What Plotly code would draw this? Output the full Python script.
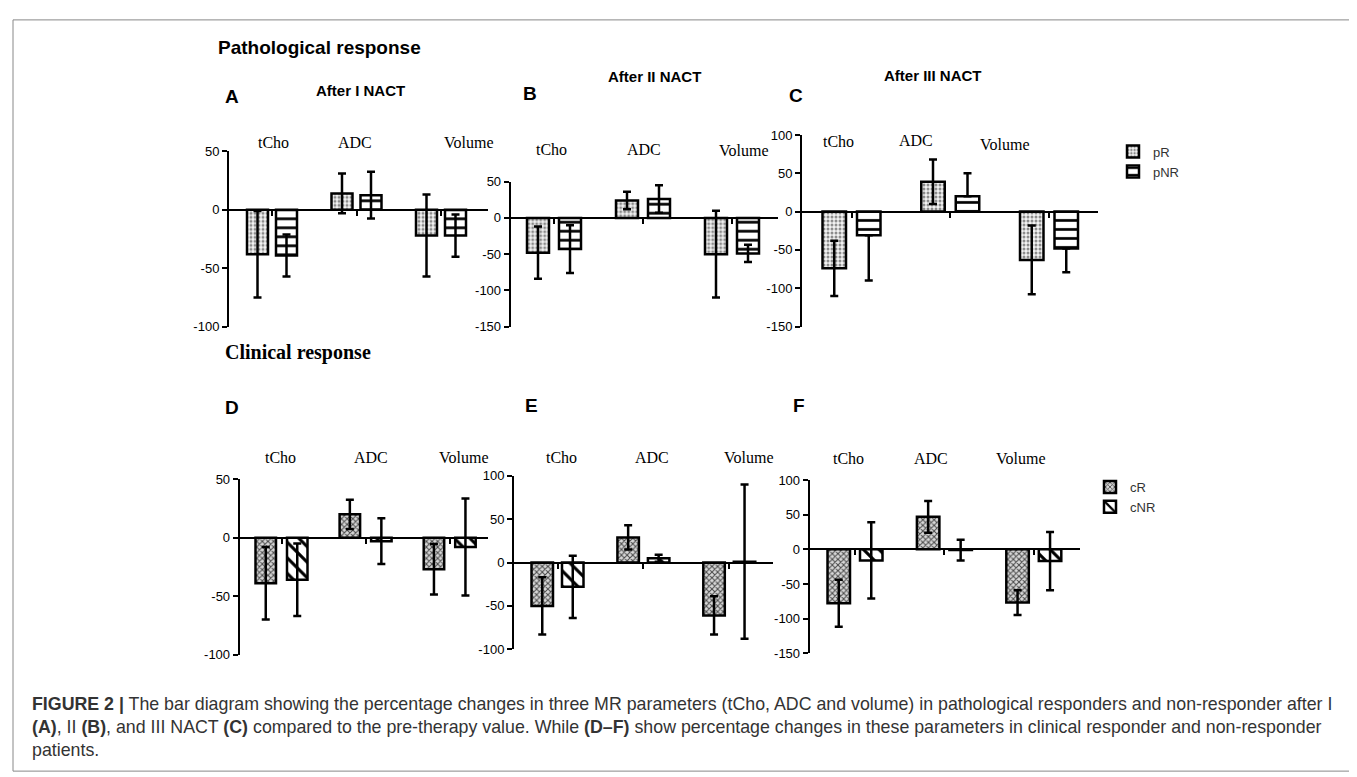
import plotly.graph_objects as go

W, H = 1357, 777

# ---------------- data ----------------
groups = ["tCho", "ADC", "Volume"]

# Pathological response (pR / pNR)
A_pR = [-38, 14, -22]
A_pR_up = [37, 17, 35]
A_pR_dn = [37, 17, 35]
A_pNR = [-39, 12.5, -22]
A_pNR_up = [18, 20, 18]
A_pNR_dn = [18, 20, 18]

B_pR = [-48, 24, -50]
B_pR_up = [36, 12, 60]
B_pR_dn = [36, 12, 60]
B_pNR = [-43, 26, -49]
B_pNR_up = [33, 19, 12]
B_pNR_dn = [33, 19, 12]

C_pR = [-74, 39, -63]
C_pR_up = [36, 29, 45]
C_pR_dn = [36, 29, 45]
C_pNR = [-31, 20, -48]
C_pNR_up = [0, 30, 0]
C_pNR_dn = [59, 0, 31]

# Clinical response (cR / cNR)
D_cR = [-39, 20, -27]
D_cR_up = [31, 12.5, 21.5]
D_cR_dn = [31, 12.5, 21.5]
D_cNR = [-36, -3, -8]
D_cNR_up = [31, 19.5, 41.5]
D_cNR_dn = [31, 19.5, 41.5]

E_cR = [-50, 29, -61]
E_cR_up = [33, 14, 22]
E_cR_dn = [33, 14, 22]
E_cNR = [-28, 5, 1]
E_cNR_up = [36, 4, 89]
E_cNR_dn = [36, 4, 89]

F_cR = [-78, 47, -77]
F_cR_up = [34, 23, 18]
F_cR_dn = [34, 23, 18]
F_cNR = [-16, -1, -17]
F_cNR_up = [55, 15, 42]
F_cNR_dn = [55, 15, 42]

ticks_A = [-100, -50, 0, 50]
ticks_B = [-150, -100, -50, 0, 50]
ticks_C = [-150, -100, -50, 0, 50, 100]
ticks_D = [-100, -50, 0, 50]
ticks_E = [-100, -50, 0, 50, 100]
ticks_F = [-150, -100, -50, 0, 50, 100]

panel_titles = ["After I NACT", "After II NACT", "After III NACT"]

# ---------------- styles ----------------
STYLE = {
    "pR": dict(shape=".", fgcolor="#8a8a8a", bgcolor="#f4f4f4", size=4, solidity=0.45),
    "pNR": dict(shape="-", fgcolor="#000000", bgcolor="#ffffff", size=9, solidity=0.3),
    "cR": dict(shape="x", fgcolor="#4a4a4a", bgcolor="#d8d8d8", size=4, solidity=0.45),
    "cNR": dict(shape="\\", fgcolor="#000000", bgcolor="#ffffff", size=11, solidity=0.28),
}

# panel geometry in pixels: y-axis x, x-axis end, top/bottom of y range, group centres, bar width, inner gap
panels = [
    dict(name="A", s1=("pR", A_pR, A_pR_up, A_pR_dn), s2=("pNR", A_pNR, A_pNR_up, A_pNR_dn),
         ticks=ticks_A, x0=221, x1=480, ytop=139, ybot=318, c0=264, c2=433, bw=21, gap=8),
    dict(name="B", s1=("pR", B_pR, B_pR_up, B_pR_dn), s2=("pNR", B_pNR, B_pNR_up, B_pNR_dn),
         ticks=ticks_B, x0=502.7, x1=770, ytop=170, ybot=317.7, c0=546, c2=724, bw=22, gap=10),
    dict(name="C", s1=("pR", C_pR, C_pR_up, C_pR_dn), s2=("pNR", C_pNR, C_pNR_up, C_pNR_dn),
         ticks=ticks_C, x0=794, x1=1090, ytop=122.3, ybot=317.7, c0=843.5, c2=1041, bw=23.5, gap=11),
    dict(name="D", s1=("cR", D_cR, D_cR_up, D_cR_dn), s2=("cNR", D_cNR, D_cNR_up, D_cNR_dn),
         ticks=ticks_D, x0=231.7, x1=480, ytop=473.3, ybot=652.3, c0=273.5, c2=441.7, bw=20.5, gap=11),
    dict(name="E", s1=("cR", E_cR, E_cR_up, E_cR_dn), s2=("cNR", E_cNR, E_cNR_up, E_cNR_dn),
         ticks=ticks_E, x0=506, x1=765, ytop=470, ybot=646.7, c0=549.5, c2=721.3, bw=21.5, gap=9),
    dict(name="F", s1=("cR", F_cR, F_cR_up, F_cR_dn), s2=("cNR", F_cNR, F_cNR_up, F_cNR_dn),
         ticks=ticks_F, x0=801.7, x1=1071.7, ytop=474.3, ybot=650.7, c0=847, c2=1025.8, bw=22.5, gap=10),
]

fig = go.Figure()
legend_seen = set()
layout = {}

for i, p in enumerate(panels, start=1):
    xa = "x" if i == 1 else f"x{i}"
    ya = "y" if i == 1 else f"y{i}"
    d = (p["c2"] - p["c0"]) / 2.0
    xr = [-(p["c0"] - p["x0"]) / d, 2 + (p["x1"] - p["c2"]) / d]
    yr = [p["ticks"][0], p["ticks"][-1]]
    dom_y = [1 - p["ybot"] / H, 1 - p["ytop"] / H]
    zero_pos = dom_y[0] + (0 - yr[0]) / (yr[1] - yr[0]) * (dom_y[1] - dom_y[0])
    w = p["bw"] / d
    offs = [-(p["gap"] / 2 + p["bw"]) / d, (p["gap"] / 2) / d]

    for (key, vals, up, dn), off in zip([p["s1"], p["s2"]], offs):
        st = STYLE[key]
        show = key not in legend_seen
        legend_seen.add(key)
        fig.add_trace(go.Bar(
            x=[0, 1, 2], y=vals, width=w, offset=off,
            name=key, showlegend=show,
            legend="legend" if key.startswith("p") else "legend2",
            marker=dict(color=st["bgcolor"], line=dict(color="black", width=2.5),
                        pattern=dict(shape=st["shape"], fgcolor=st["fgcolor"], bgcolor=st["bgcolor"],
                                     size=st["size"], solidity=st["solidity"], fillmode="replace")),
            error_y=dict(type="data", symmetric=False, array=up, arrayminus=dn,
                         color="black", thickness=2.5, width=4),
            xaxis=xa, yaxis=ya, hoverinfo="skip",
        ))

    layout["xaxis" if i == 1 else f"xaxis{i}"] = dict(
        domain=[p["x0"] / W, p["x1"] / W], range=xr, anchor="free", position=zero_pos,
        showline=True, linecolor="black", linewidth=2, showgrid=False, zeroline=False,
        tickvals=[0, 1, 2], ticks="outside", ticklen=5, tickwidth=2, tickcolor="black",
        showticklabels=False, fixedrange=True,
    )
    layout["yaxis" if i == 1 else f"yaxis{i}"] = dict(
        domain=dom_y, range=yr, anchor=xa,
        showline=True, linecolor="black", linewidth=2, showgrid=False, zeroline=False,
        tickvals=p["ticks"], ticktext=[str(t) for t in p["ticks"]],
        ticks="outside", ticklen=5, tickwidth=2, tickcolor="black",
        tickfont=dict(family="Liberation Sans", size=13, color="black"), fixedrange=True,
    )

fig.update_layout(**layout)

# ---------------- annotations ----------------
ann = []

def txt(x, y, s, size, family="Liberation Sans", bold=False, color="black", xanchor="center"):
    ann.append(dict(x=x / W, y=1 - y / H, xref="paper", yref="paper", text=(f"<b>{s}</b>" if bold else s),
                    showarrow=False, xanchor=xanchor, yanchor="middle",
                    font=dict(family=family, size=size, color=color)))

txt(208, 33, "Pathological response", 19, bold=True, xanchor="left")
txt(215, 344, "Clinical response", 20, family="Liberation Serif", bold=True, xanchor="left")

for letter, x, y in [("A", 215, 83), ("B", 513, 80), ("C", 779, 82), ("D", 215, 400), ("E", 515, 398), ("F", 783, 398)]:
    txt(x, y, letter, 19, bold=True, xanchor="left")

for title, x, y in zip(panel_titles, [352, 646, 925], [77, 63, 62]):
    txt(x, y, title, 15, bold=True)

group_label_pos = [
    [(265, 130), (347, 130), (460, 130)],
    [(543, 137), (636, 137), (735, 138)],
    [(830, 129), (908, 128), (996, 132)],
    [(272, 451), (363, 451), (455, 451)],
    [(553, 451), (644, 451), (740, 451)],
    [(840, 452), (923, 452), (1012, 452)],
]
for row in group_label_pos:
    for g, (x, y) in zip(groups, row):
        txt(x, y, g, 16, family="Liberation Serif")

caption1 = ("<b>FIGURE 2 |</b> The bar diagram showing the percentage changes in three MR parameters (tCho, ADC and volume) "
            "in pathological responders and non-responder after I")
caption2 = ("<b>(A)</b>, II <b>(B)</b>, and III NACT <b>(C)</b> compared to the pre-therapy value. While <b>(D–F)</b> "
            "show percentage changes in these parameters in clinical responder and non-responder")
caption3 = "patients."
for s, y in [(caption1, 703), (caption2, 726), (caption3, 749)]:
    txt(22, y, s, 17.8, color="#333333", xanchor="left")

fig.update_layout(
    width=W, height=H, margin=dict(l=0, r=0, t=0, b=0),
    paper_bgcolor="white", plot_bgcolor="white",
    barmode="overlay", annotations=ann,
    legend=dict(x=1105 / W, y=1 - 124 / H, xanchor="left", yanchor="top",
                font=dict(family="Liberation Sans", size=13, color="#333333"),
                bgcolor="rgba(0,0,0,0)", tracegroupgap=0, itemwidth=30),
    legend2=dict(x=1082 / W, y=1 - 466 / H, xanchor="left", yanchor="top",
                 font=dict(family="Liberation Sans", size=13, color="#333333"),
                 bgcolor="rgba(0,0,0,0)", tracegroupgap=0, itemwidth=30),
    shapes=[dict(type="rect", xref="paper", yref="paper", x0=5 / W, x1=1352 / W, y0=1 - 771 / H, y1=1 - 5 / H,
                 line=dict(color="#888888", width=1))],
)

fig.write_html("out.html")
